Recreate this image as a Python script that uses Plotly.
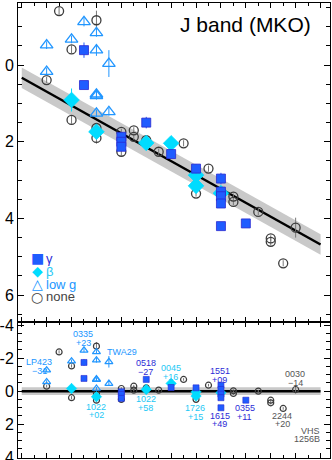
import plotly.graph_objects as go
from plotly.subplots import make_subplots

# spectral type as number: M0 = 0, L0 = 10
# --- top panel: absolute J mag (MKO) ---
gam_spt = [8.5, 8.5, 10, 10, 10, 11, 12, 13, 14, 14, 14, 14, 14, 15]
gam_mag = [-0.39, 0.52, 1.87, 2.0, 2.13, 1.50, 2.32, 2.70, 2.96, 3.30, 3.42, 3.61, 4.20, 4.13]
gam_err = [0.2, 0.1, 0.1, 0.1, 0.1, 0.15, 0.1, 0.12, 0.15, 0.1, 0.1, 0.1, 0.1, 0.05]

beta_spt = [8, 9, 11, 12, 13, 13, 14]
beta_mag = [0.91, 1.74, 2.03, 2.04, 2.87, 3.15, 3.34]
beta_err = [0.3, 0.12, 0.1, 0.1, 0.1, 0.1, 0.1]

lowg_spt = [7, 7, 8, 8.5, 9, 9, 9, 9, 9, 9.5, 9.5]
lowg_mag = [-0.52, 0.17, -0.67, -1.13, -0.84, -0.39, 0.76, 0.80, 1.26, -0.04, 1.22]
lowg_err = [0.1, 0.1, 0.1, 0.12, 0.1, 0.15, 0.1, 0.1, 0.1, 0.35, 0.1]

none_spt = [7, 7.5, 8, 8, 9, 9, 9, 10, 10, 10.5, 10.5, 11, 11.5, 12.5, 13, 13.5,
            14.5, 14.5, 15.5, 16, 16, 16.5, 17]
none_mag = [0.39, -1.41, -0.41, 1.43, -1.17, 1.64, 1.90, 1.74, 2.26, 1.70, 1.87, 1.96,
            2.26, 2.04, 3.35, 2.70, 3.43, 3.57, 3.83, 4.52, 4.61, 5.17, 4.24]
none_err = [0.08, 0.1, 0.1, 0.1, 0.25, 0.1, 0.15, 0.08, 0.1, 0.08, 0.08, 0.08,
            0.08, 0.08, 0.08, 0.08, 0.08, 0.08, 0.08, 0.08, 0.1, 0.08, 0.26]

# linear fit and its rms band
fit_spt = [6, 18]
fit_mag = [0.33, 4.68]
fit_rms = 0.27

# --- bottom panel: residuals from the fit ---
gam_res = [-1.74, -0.77, 0.04, 0.2, 0.44, -0.71, -0.22, -0.2, -0.36, -0.1, 0.18, 0.40, 1.01, 0.55]
beta_res = [-0.16, 0.34, -0.1, -0.47, 0.05, 0.3, 0.1]
lowg_res = [-1.27, -0.56, -1.82, -2.48, -2.38, -1.88, -0.73, -0.69, -0.16, -1.78, -0.46]
none_res = [-0.30, -2.38, -1.53, 0.4, -2.73, 0.14, 0.55, -0.16, 0.5, -0.30, -0.06, -0.2,
            -0.06, -0.71, 0.5, -0.36, -0.02, 0.14, 0.0, 0.55, 0.71, 1.05, -0.1]
res_rms = 0.24

# object labels in the residual panel: (line1, line2, spt, residual, group, anchor)
labels = [
    ("LP423", "\u221231", 6.7, -1.75, "lowg", "center"),
    ("0335", "+23", 8.48, -3.45, "lowg", "center"),
    ("1022", "+02", 9.0, 0.95, "beta", "center"),
    ("0518", "\u221227", 10.98, -1.7, "gam", "center"),
    ("1022", "+58", 10.98, 0.5, "beta", "center"),
    ("0045", "+16", 11.98, -1.4, "beta", "center"),
    ("1726", "+15", 12.96, 1.05, "beta", "center"),
    ("1551", "+09", 13.96, -1.2, "gam", "center"),
    ("1615", "+49", 13.96, 1.5, "gam", "center"),
    ("0355", "+11", 14.96, 1.05, "gam", "center"),
    ("2244", "+20", 16.47, 1.5, "none", "center"),
    ("0030", "\u221214", 16.98, -1.03, "none", "center"),
    ("VHS", "1256B", 18.05, 2.4, "none", "right"),
]

colors = {"gam": "#1f5cff", "beta": "#00dcff", "lowg": "#2196ff", "none": "#3c3c3c"}
text_colors = {"gam": "#2b2bd6", "beta": "#1ec8f5", "lowg": "#2196ff", "none": "#555555"}
FONT = "Liberation Sans, Arial, Helvetica, sans-serif"

fig = make_subplots(rows=2, cols=1, shared_xaxes=True, vertical_spacing=0,
                    row_heights=[0.701, 0.299])

# rms band + fit line, top and bottom
fig.add_trace(go.Scatter(x=fit_spt + fit_spt[::-1],
                         y=[m + fit_rms for m in fit_mag] + [m - fit_rms for m in fit_mag[::-1]],
                         mode="lines", fill="toself", fillcolor="#c9c9c9", line=dict(width=0),
                         hoverinfo="skip"), row=1, col=1)
fig.add_trace(go.Scatter(x=fit_spt, y=fit_mag, mode="lines",
                         line=dict(color="black", width=2.5)), row=1, col=1)
fig.add_trace(go.Scatter(x=fit_spt + fit_spt[::-1],
                         y=[res_rms, res_rms, -res_rms, -res_rms],
                         mode="lines", fill="toself", fillcolor="#c9c9c9", line=dict(width=0),
                         hoverinfo="skip"), row=2, col=1)
fig.add_trace(go.Scatter(x=fit_spt, y=[0, 0], mode="lines",
                         line=dict(color="black", width=2.5)), row=2, col=1)

groups = [
    ("none", none_spt, none_mag, none_err, none_res, "circle-open", 9, 6),
    ("lowg", lowg_spt, lowg_mag, lowg_err, lowg_res, "triangle-up-open", 11, 7),
    ("beta", beta_spt, beta_mag, beta_err, beta_res, "diamond", 12, 8),
    ("gam", gam_spt, gam_mag, gam_err, gam_res, "square", 9, 6),
]

for key, spt, mag, err, res, sym, size, size2 in groups:
    c = colors[key]
    edge = "#2a2ad0" if key == "gam" else c
    bar_c = c if key != "none" else "#777777"
    fig.add_trace(go.Scatter(
        x=spt, y=mag, mode="markers",
        error_y=dict(type="data", array=err, color=bar_c, thickness=1, width=0),
        marker=dict(symbol=sym, size=size, color=c,
                    line=dict(color=edge, width=1.3 if "open" in sym else 0.8)),
    ), row=1, col=1)
    fig.add_trace(go.Scatter(
        x=spt, y=res, mode="markers",
        error_y=dict(type="data", array=err, color=bar_c, thickness=1, width=0),
        marker=dict(symbol=sym, size=size2, color=c,
                    line=dict(color=edge, width=1.2 if "open" in sym else 0.6)),
    ), row=2, col=1)

for l1, l2, x, y, key, anc in labels:
    for i, t in enumerate([l1, l2]):
        fig.add_annotation(x=x, y=y + i * 0.52, text=t, showarrow=False, xref="x2", yref="y2",
                           font=dict(size=9, color=text_colors[key], family=FONT),
                           xanchor=anc, yanchor="middle")

fig.add_annotation(x=9.35, y=-2.36, text="TWA29", showarrow=False, xref="x2", yref="y2",
                   font=dict(size=9, color=text_colors["lowg"], family=FONT), xanchor="left")

fig.add_annotation(x=0.945, y=0.952, xref="paper", yref="paper", text="J band (MKO)",
                   showarrow=False, xanchor="right", yanchor="middle",
                   font=dict(size=21, color="black", family=FONT))

# hand-made legend (symbol glyph + coloured label)
legend_rows = [
    ("\u25a0", colors["gam"], "\u03b3", text_colors["gam"], 258),
    ("\u25c6", colors["beta"], "\u03b2", text_colors["beta"], 271),
    ("\u25b3", colors["lowg"], "low g", text_colors["lowg"], 284),
    ("\u25cb", "#444444", "none", "#444444", 297),
]
for glyph, gc, txt, tc, py in legend_rows:
    yy = (458 - py) / 455
    fig.add_annotation(x=(37 - 18) / 312, y=yy, xref="paper", yref="paper", text=glyph,
                       showarrow=False, xanchor="center", yanchor="middle",
                       font=dict(size=14, color=gc, family="DejaVu Sans"))
    fig.add_annotation(x=(44 - 18) / 312, y=yy, xref="paper", yref="paper", text=txt,
                       showarrow=False, xanchor="left", yanchor="middle",
                       font=dict(size=13, color=tc, family=FONT))

axis_common = dict(showline=True, linecolor="black", linewidth=1, mirror="ticks",
                   ticks="inside", tickcolor="black", showgrid=False, zeroline=False,
                   automargin=False, ticklabeloverflow="allow")
fig.update_xaxes(range=[5.85, 18.38], showticklabels=False, dtick=1, tick0=6, ticklen=5,
                 minor=dict(dtick=0.5, ticks="inside", ticklen=3, tickcolor="black"),
                 **axis_common)
fig.update_yaxes(range=[6.7, -1.62], tickvals=[0, 2, 4, 6], ticklen=6,
                 minor=dict(dtick=0.5, ticks="inside", ticklen=4, tickcolor="black"),
                 tickfont=dict(size=16, family=FONT, color="black"), row=1, col=1, **axis_common)
fig.update_yaxes(range=[4.06, -4.2], tickvals=[-4, -2, 0, 2, 4],
                 ticktext=["-4", "-2", "0", "2", "4"], ticklen=6,
                 minor=dict(dtick=0.5, ticks="inside", ticklen=4, tickcolor="black"),
                 tickfont=dict(size=16, family=FONT, color="black"), row=2, col=1, **axis_common)

fig.update_layout(
    width=332, height=460,
    margin=dict(l=18, r=2, t=3, b=2),
    paper_bgcolor="white", plot_bgcolor="white",
    font=dict(family=FONT),
    showlegend=False,
)

# the page's default body margin would push the figure 8px right and down
fig.write_html("out.html", config={"displayModeBar": False},
               post_script="document.body.style.margin='0';")
